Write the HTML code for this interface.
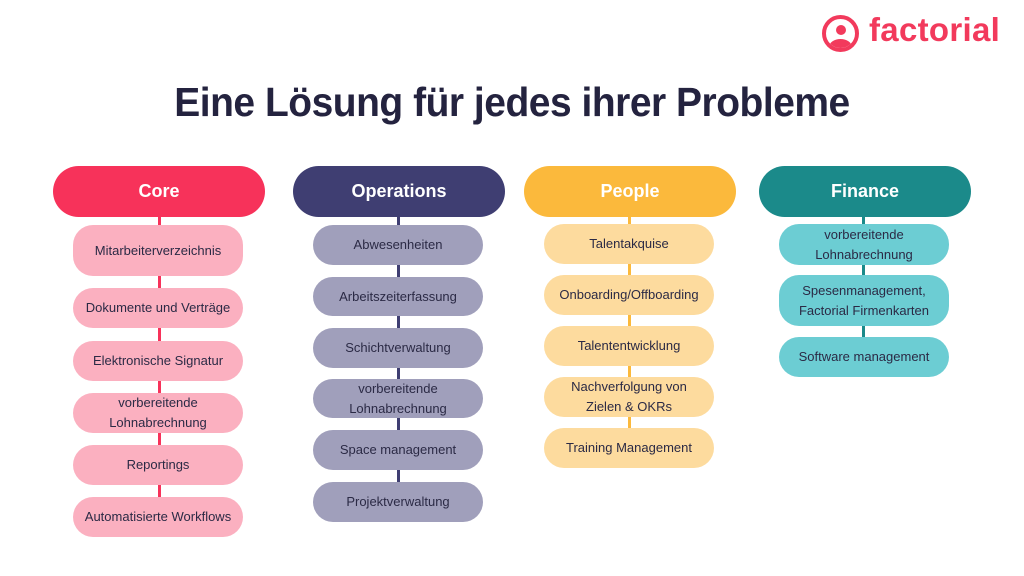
<!DOCTYPE html>
<html><head><meta charset="utf-8"><style>
*{margin:0;padding:0;box-sizing:border-box}
body{width:1024px;height:576px;background:#fff;position:relative;overflow:hidden;font-family:"Liberation Sans",sans-serif}
.t{position:absolute;left:0;width:1024px;top:79px;text-align:center;font-size:41px;font-weight:bold;color:#24233f;letter-spacing:-0.5px;transform:scaleX(0.95)}
.h{position:absolute;height:51px;width:212px;border-radius:26px;color:#fff;font-weight:bold;font-size:18px;display:flex;align-items:center;justify-content:center}
.i{position:absolute;width:170px;border-radius:20px;color:#2b2a45;font-size:13px;line-height:20px;display:flex;align-items:center;justify-content:center;text-align:center}
.l{position:absolute;width:3px}
</style></head><body>
<div style="position:absolute;left:822px;top:15px;width:37px;height:37px;border:4px solid #f23a5c;border-radius:50%;overflow:hidden">
<div style="position:absolute;left:10px;top:6px;width:10px;height:10px;border-radius:50%;background:#f23a5c"></div>
<div style="position:absolute;left:3px;top:20px;width:23px;height:16px;border-radius:50% 50% 0 0;background:#f23a5c"></div></div>
<div style="position:absolute;left:869px;top:11px;font-size:33px;color:#f23a5c;font-weight:bold;letter-spacing:0.3px">factorial</div>
<div class="t">Eine Lösung für jedes ihrer Probleme</div>

<div class="l" style="left:158px;top:210px;height:300px;background:#f7325a"></div>
<div class="h" style="left:53px;top:166px;background:#f7325a">Core</div>
<div class="i" style="left:73px;top:225px;height:51px;background:#fbb0c0">Mitarbeiterverzeichnis</div>
<div class="i" style="left:73px;top:288px;height:40px;background:#fbb0c0">Dokumente und Verträge</div>
<div class="i" style="left:73px;top:341px;height:40px;background:#fbb0c0">Elektronische Signatur</div>
<div class="i" style="left:73px;top:393px;height:40px;background:#fbb0c0">vorbereitende<br>Lohnabrechnung</div>
<div class="i" style="left:73px;top:445px;height:40px;background:#fbb0c0">Reportings</div>
<div class="i" style="left:73px;top:497px;height:40px;background:#fbb0c0">Automatisierte Workflows</div>

<div class="l" style="left:397px;top:210px;height:280px;background:#3f3e72"></div>
<div class="h" style="left:293px;top:166px;background:#3f3e72">Operations</div>
<div class="i" style="left:313px;top:225px;height:40px;background:#a09fbb">Abwesenheiten</div>
<div class="i" style="left:313px;top:277px;height:39px;background:#a09fbb">Arbeitszeiterfassung</div>
<div class="i" style="left:313px;top:328px;height:40px;background:#a09fbb">Schichtverwaltung</div>
<div class="i" style="left:313px;top:379px;height:39px;background:#a09fbb">vorbereitende<br>Lohnabrechnung</div>
<div class="i" style="left:313px;top:430px;height:40px;background:#a09fbb">Space management</div>
<div class="i" style="left:313px;top:482px;height:40px;background:#a09fbb">Projektverwaltung</div>

<div class="l" style="left:628px;top:210px;height:230px;background:#fbb93c"></div>
<div class="h" style="left:524px;top:166px;background:#fbb93c">People</div>
<div class="i" style="left:544px;top:224px;height:40px;background:#fddb9e">Talentakquise</div>
<div class="i" style="left:544px;top:275px;height:40px;background:#fddb9e">Onboarding/Offboarding</div>
<div class="i" style="left:544px;top:326px;height:40px;background:#fddb9e">Talententwicklung</div>
<div class="i" style="left:544px;top:377px;height:40px;background:#fddb9e">Nachverfolgung von<br>Zielen &amp; OKRs</div>
<div class="i" style="left:544px;top:428px;height:40px;background:#fddb9e">Training Management</div>

<div class="l" style="left:862px;top:210px;height:140px;background:#1b8a8a"></div>
<div class="h" style="left:759px;top:166px;background:#1b8a8a">Finance</div>
<div class="i" style="left:779px;top:224px;height:41px;background:#6ccdd3">vorbereitende<br>Lohnabrechnung</div>
<div class="i" style="left:779px;top:275px;height:51px;background:#6ccdd3">Spesenmanagement,<br>Factorial Firmenkarten</div>
<div class="i" style="left:779px;top:337px;height:40px;background:#6ccdd3">Software management</div>
</body></html>
